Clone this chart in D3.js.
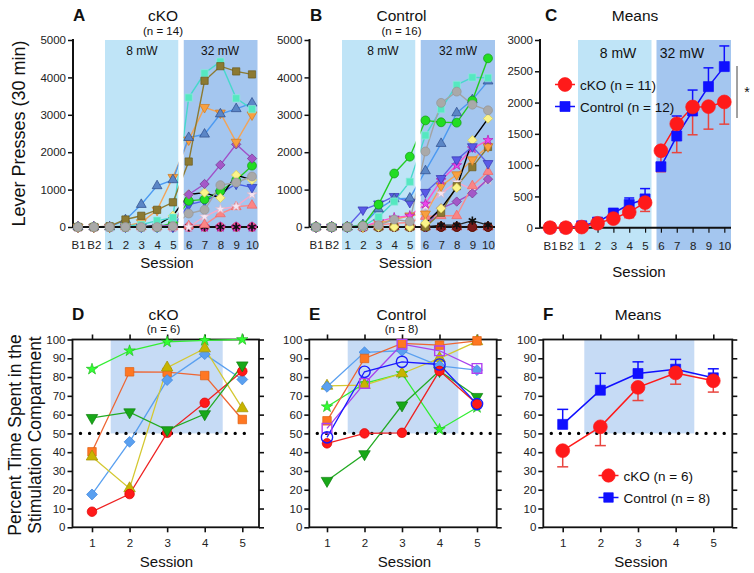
<!DOCTYPE html>
<html><head><meta charset="utf-8">
<script src="https://cdn.jsdelivr.net/npm/d3@7"></script>
<style>
body { margin: 0; background: #fff; }
svg { display: block; font-family: "Liberation Sans", Arial, sans-serif; }
</style></head>
<body>
<svg id="fig" width="754" height="573"></svg>
<script>
// ---------- data ----------
var leverSessions = ["B1", "B2", "1", "2", "3", "4", "5", "6", "7", "8", "9", "10"];
var cppSessions = [1, 2, 3, 4, 5];
var leverTicksA = [0, 1000, 2000, 3000, 4000, 5000];
var leverTicksC = [0, 500, 1000, 1500, 2000, 2500, 3000];
var pctTicks = [0, 10, 20, 30, 40, 50, 60, 70, 80, 90, 100];

// A: cKO individual lever presses (n = 14)
var ckoTealSquare   = [0, 0, 0, 30, 60, 170, 250, 3460, 4110, 4420, 3440, 3150];
var ckoOliveSquare  = [0, 0, 20, 200, 300, 460, 660, 1750, 3910, 4300, 4160, 4080];
var ckoBlueTriUp    = [0, 0, 0, 190, 600, 1100, 1260, 2390, 2480, 3020, 3160, 3310];
var ckoOrangeTriDn  = [0, 0, 0, 20, 120, 450, 1330, 2330, 3200, 3050, 2270, 3000];
var ckoPurpleDia    = [0, 0, 0, 0, 0, 20, 50, 870, 1150, 1660, 2210, 1830];
var ckoGreenCircle  = [0, 0, 0, 0, 0, 0, 100, 700, 740, 960, 1250, 1640];
var ckoYellowDia    = [0, 0, 0, 0, 0, 50, 300, 870, 920, 780, 1390, 1260];
var ckoGrayCircle   = [0, 0, 0, 0, 0, 0, 20, 360, 460, 1120, 1190, 1350];
var ckoBlueTriDn    = [0, 0, 0, 0, 0, 0, 0, 600, 700, 900, 1150, 1060];
var ckoPaleStar     = [0, 0, 0, 0, 0, 0, 0, 0, 280, 480, 550, 870];
var ckoSalmonTri    = [0, 0, 0, 0, 0, 0, 0, 30, 60, 350, 540, 580];
var ckoMagentaStar  = [0, 0, 0, 0, 0, 0, 0, 0, 0, 0, 0, 0];
var ckoBlackAster   = [0, 0, 0, 0, 0, 0, 0, 0, 0, 0, 0, 0];
var ckoPinkCircle   = [0, 0, 0, 0, 0, 0, 0, 0, 0, 0, 0, 0];

// B: control individual lever presses (n = 16)
var ctlGreenCircle  = [0, 0, 0, 40, 600, 1430, 1880, 2850, 2800, 2790, 3380, 4510];
var ctlTealSquare   = [0, 0, 0, 20, 270, 680, 1210, 2450, 3150, 3800, 4000, 3990];
var ctlGrayCircle   = [0, 0, 0, 30, 50, 200, 150, 2020, 3320, 3620, 3270, 3120];
var ctlBlueTriUp    = [0, 0, 0, 60, 480, 750, 770, 1500, 2230, 3050, 3400, 3900];
var ctlSlateTriDn   = [0, 0, 0, 460, 620, 820, 660, 930, 1300, 1800, 2150, 1700];
var ctlYellowDia    = [0, 0, 0, 0, 0, 0, 0, 100, 500, 1050, 2320, 2900];
var ctlMagentaStar  = [0, 0, 0, 0, 150, 250, 300, 620, 1250, 1650, 2100, 2320];
var ctlOrangeTriDn  = [0, 0, 0, 0, 100, 200, 300, 350, 1100, 1400, 1800, 2150];
var ctlOliveSquare  = [0, 0, 0, 0, 0, 0, 0, 0, 380, 1090, 1600, 2140];
var ctlSalmonTri    = [0, 0, 0, 0, 50, 100, 120, 280, 300, 300, 1100, 1480];
var ctlPurpleDia    = [0, 0, 0, 0, 0, 0, 0, 0, 500, 680, 900, 1280];
var ctlPaleStar     = [0, 0, 0, 0, 0, 0, 0, 550, 900, 1200, 1000, 1250];
var ctlBlackCross   = [0, 0, 0, 0, 0, 0, 0, 0, 50, 50, 170, 50];
var ctlDarkRed      = [0, 0, 0, 0, 0, 0, 0, 0, 0, 0, 0, 0];
var ctlOrangeZero   = [0, 0, 0, 0, 0, 0, 0, 0, 0, 0, 0, 0];
var ctlRedTriZero   = [0, 0, 0, 0, 0, 0, 0, 0, 0, 0, 0, 0];

// C: means (cKO n = 11, control n = 12)
var ckoMeans  = [0, 0, 10, 70, 145, 250, 400, 1230, 1660, 1930, 1935, 2010];
var ckoSem    = [0, 0, 0, 0, 0, 90, 140, 335, 460, 445, 360, 355];
var ctlMeans  = [0, 0, 30, 90, 235, 370, 460, 975, 1465, 1865, 2255, 2575];
var ctlSem    = [0, 0, 0, 20, 0, 105, 165, 60, 320, 335, 300, 330];

// D: cKO place preference (n = 6)
var dLimeStar    = [84.2, 94, 98.7, 99.5, 100];
var dOrangeSq    = [40.2, 82.8, 82.6, 80.8, 57.4];
var dBlueDia     = [17.5, 45.5, 78.4, 92.2, 78.7];
var dOliveTri    = [37.6, 20.7, 85, 95.2, 63.3];
var dGreenTriDn  = [58.3, 61.3, 51.8, 60.3, 86.3];
var dRedCircle   = [8.3, 17.7, 50.3, 66.3, 83.1];

// E: control place preference (n = 8)
var eBlueDia     = [74.8, 93.2, 94, 86, 83.7];
var eOrangeSq    = [56.7, 89.9, 97.9, 97, 99.3];
var eOliveTri    = [75.3, 75.7, 81.9, 90, 99];
var ePurpleOpen  = [52.7, 76.6, 97.5, 94, 84.6];
var eBlueOpen    = [47.9, 82.8, 88.1, 86.7, 65.6];
var eLimeStar    = [64.2, 76.6, 81.9, 52.1, 63.8];
var eRedCircle   = [44.7, 50, 50.3, 83.3, 65.6];
var eGreenTriDn  = [24.8, 39, 65, 83.3, 69.5];

// F: means
var ckoPct    = [40.8, 53.5, 74.5, 82.2, 78];
var ckoPctSem = [8.6, 10, 7, 6, 6];
var ctlPct    = [54.8, 73, 81.9, 84.2, 79.6];
var ctlPctSem = [8, 9, 6.2, 5.2, 4.8];

// ---------- styles ----------
var LIGHT = "#bfe4f7", DARK = "#a4c6ef", CPP = "#c6dbf5";
var RED = "#ff1a1a", BLUE = "#1010ff";

var ckoAnimals = [
  { v: ckoPinkCircle, shape: "circle", fill: "#ff5b9a", stroke: "#e0407a", line: "#ff5b9a" },
  { v: ckoMagentaStar, shape: "star", fill: "#ee33dd", stroke: "#aa1199", line: "#ff4fa8" },
  { v: ckoBlackAster, shape: "asterisk", fill: "#111", stroke: "#111", line: "#ff4fa8" },
  { v: ckoSalmonTri, shape: "triUp", fill: "#fb8585", stroke: "#e66", line: "#fb8a8a" },
  { v: ckoPaleStar, shape: "star", fill: "#f6e6f2", stroke: "#d8b8cc", line: "#f7a8c8" },
  { v: ckoBlueTriDn, shape: "triDown", fill: "#4b5fe8", stroke: "#2d3fb0", line: "#4b5fe8" },
  { v: ckoGreenCircle, shape: "circle", fill: "#22dd22", stroke: "#129912", line: "#22cc22" },
  { v: ckoYellowDia, shape: "diamond", fill: "#fbf48a", stroke: "#d8cc55", line: "#000" },
  { v: ckoPurpleDia, shape: "diamond", fill: "#a458c8", stroke: "#733a92", line: "#a050c8" },
  { v: ckoOrangeTriDn, shape: "triDown", fill: "#f8a040", stroke: "#d07a20", line: "#f2a458" },
  { v: ckoBlueTriUp, shape: "triUp", fill: "#5b86c6", stroke: "#2c4a8a", line: "#4c9af2" },
  { v: ckoTealSquare, shape: "square", fill: "#55e8c0", stroke: "#8fe8dc", line: "#48d8cc" },
  { v: ckoOliveSquare, shape: "square", fill: "#8c7a32", stroke: "#6a5a1e", line: "#8c7a32" },
  { v: ckoGrayCircle, shape: "circle", fill: "#a9a9a9", stroke: "#939393", line: "#a3a3a3" }
];

var ctlAnimals = [
  { v: ctlRedTriZero, shape: "triUp", fill: "#e33", stroke: "#b22", line: "#e33" },
  { v: ctlOrangeZero, shape: "circle", fill: "#e07020", stroke: "#a05010", line: "#e07020" },
  { v: ctlDarkRed, shape: "circle", fill: "#7a1a1a", stroke: "#400", line: "#7a1a1a" },
  { v: ctlBlackCross, shape: "asterisk", fill: "#111", stroke: "#111", line: "#222" },
  { v: ctlPaleStar, shape: "star", fill: "#f6e6f2", stroke: "#d8b8cc", line: "#f7a8c8" },
  { v: ctlPurpleDia, shape: "diamond", fill: "#a458c8", stroke: "#733a92", line: "#a050c8" },
  { v: ctlSalmonTri, shape: "triUp", fill: "#fb8585", stroke: "#e66", line: "#fb8a8a" },
  { v: ctlOliveSquare, shape: "square", fill: "#8c7a32", stroke: "#6a5a1e", line: "#8c7a32" },
  { v: ctlOrangeTriDn, shape: "triDown", fill: "#f8a040", stroke: "#d07a20", line: "#f2a458" },
  { v: ctlMagentaStar, shape: "star", fill: "#ee44ee", stroke: "#b020b0", line: "#ff55cc" },
  { v: ctlYellowDia, shape: "diamond", fill: "#fbf48a", stroke: "#d8cc55", line: "#000" },
  { v: ctlSlateTriDn, shape: "triDown", fill: "#5a5ae6", stroke: "#3535b0", line: "#6060e8" },
  { v: ctlBlueTriUp, shape: "triUp", fill: "#5b86c6", stroke: "#2c4a8a", line: "#4c9af2" },
  { v: ctlTealSquare, shape: "square", fill: "#55e8c0", stroke: "#8fe8dc", line: "#48d8cc" },
  { v: ctlGreenCircle, shape: "circle", fill: "#22dd22", stroke: "#129912", line: "#22cc22" },
  { v: ctlGrayCircle, shape: "circle", fill: "#a9a9a9", stroke: "#939393", line: "#a3a3a3" }
];

var dAnimals = [
  { v: dLimeStar, shape: "star", fill: "#33ff33", stroke: "#1fbf1f", line: "#33ee33" },
  { v: dOrangeSq, shape: "square", fill: "#ff7722", stroke: "#e06010", line: "#ee6633" },
  { v: dBlueDia, shape: "diamond", fill: "#5aa0f0", stroke: "#3f86dd", line: "#5aa0f0" },
  { v: dOliveTri, shape: "triUp", fill: "#c8b400", stroke: "#a09000", line: "#d4c830" },
  { v: dRedCircle, shape: "circle", fill: "#ff1a1a", stroke: "#d00", line: "#ee2222" },
  { v: dGreenTriDn, shape: "triDown", fill: "#18a818", stroke: "#0e800e", line: "#22aa22" }
];

var eAnimals = [
  { v: eLimeStar, shape: "star", fill: "#33ff33", stroke: "#1fbf1f", line: "#33ee33" },
  { v: eOliveTri, shape: "triUp", fill: "#c8b400", stroke: "#a09000", line: "#d4c830" },
  { v: eBlueDia, shape: "diamond", fill: "#5aa0f0", stroke: "#3f86dd", line: "#5aa0f0" },
  { v: eOrangeSq, shape: "square", fill: "#ff7722", stroke: "#e06010", line: "#ee6633" },
  { v: eGreenTriDn, shape: "triDown", fill: "#18a818", stroke: "#0e800e", line: "#22aa22" },
  { v: eRedCircle, shape: "circle", fill: "#ff1a1a", stroke: "#d00", line: "#ee2222" },
  { v: ePurpleOpen, shape: "square", fill: "none", stroke: "#b040f0", line: "#a844ee", open: true },
  { v: eBlueOpen, shape: "circle", fill: "none", stroke: "#1a1aff", line: "#1a1aff", open: true }
];

// ---------- helpers ----------
var svg = d3.select("#fig");
var symTypes = { circle: d3.symbolCircle, square: d3.symbolSquare, triUp: d3.symbolTriangle, triDown: d3.symbolTriangle,
  diamond: d3.symbolSquare, star: d3.symbolStar, asterisk: d3.symbolAsterisk };
var symScale = { circle: 1, square: 0.85, triUp: 0.68, triDown: 0.68, diamond: 0.7, star: 0.5, asterisk: 0.8 };

function mark(g, s, x, y, size) {
  var strokeOnly = s.shape === "asterisk";
  g.append("path")
    .attr("d", d3.symbol().type(symTypes[s.shape]).size(size * symScale[s.shape])())
    .attr("transform", "translate(" + x + "," + y + ") rotate(" + (s.shape === "triDown" ? 180 : s.shape === "diamond" ? 45 : 0) + ")")
    .attr("fill", strokeOnly ? "none" : s.fill)
    .attr("stroke", strokeOnly ? s.fill : s.stroke)
    .attr("stroke-width", strokeOnly ? 1.6 : (s.open ? 1.4 : 0.7));
}

function text(g, x, y, str, size, opts) {
  opts = opts || {};
  var t = g.append("text").attr("x", x).attr("y", y).attr("font-size", size).attr("fill", "#111")
    .attr("text-anchor", opts.anchor || "middle").text(str);
  if (opts.bold) t.attr("font-weight", "bold");
  if (opts.family) t.attr("font-family", opts.family);
  if (opts.rotate) t.attr("transform", "rotate(-90," + x + "," + y + ")");
  return t;
}

function styleAxis(sel, w) {
  sel.selectAll("path.domain").remove();
  sel.selectAll(".tick line").attr("stroke", "#111").attr("stroke-width", w);
  sel.selectAll(".tick text").attr("fill", "#222").attr("font-size", 11.5).attr("font-family", "Liberation Sans, Arial, sans-serif");
}

// ---------- lever press panels (A, B, C) ----------
function leverPanel(p) {
  var g = svg.append("g");
  var x = d3.scalePoint().domain(leverSessions).range([p.xFirst, p.xLast]);
  var y = d3.scaleLinear().domain([0, p.yMax]).range([p.yBot, p.yTop]);
  var narrow = p.means ? "Liberation Sans, Arial, sans-serif" : "Liberation Sans Narrow, Arial Narrow, Liberation Sans, sans-serif";

  g.append("rect").attr("x", p.light[0]).attr("y", p.yTop).attr("width", p.light[1] - p.light[0])
    .attr("height", p.shadeBot - p.yTop).attr("fill", LIGHT);
  g.append("rect").attr("x", p.dark[0]).attr("y", p.yTop).attr("width", p.dark[1] - p.dark[0])
    .attr("height", p.shadeBot - p.yTop).attr("fill", DARK);
  text(g, p.mw8, p.yTop + (p.means ? 18 : 15), "8 mW", p.means ? 14 : 12, { family: narrow });
  text(g, p.mw32, p.yTop + (p.means ? 18 : 15), "32 mW", p.means ? 14 : 12, { family: narrow });

  var line = d3.line().x(function (d, i) { return x(leverSessions[i]); }).y(function (d) { return y(d); });

  if (p.series) {
    p.series.forEach(function (s) {
      g.append("path").attr("d", line(s.v)).attr("fill", "none").attr("stroke", s.line).attr("stroke-width", 1.4);
    });
    // white gap between the two stimulation blocks hides the 5 -> 6 segments
    g.append("rect").attr("x", p.light[1]).attr("y", p.yTop).attr("width", p.dark[0] - p.light[1])
      .attr("height", p.shadeBot - p.yTop).attr("fill", "#fff");
  }

  // axes
  var ya = g.append("g").attr("transform", "translate(" + p.axisX + ",0)")
    .call(d3.axisLeft(y).tickValues(p.ticks).tickSize(5).tickPadding(2).tickFormat(d3.format("d")));
  styleAxis(ya, 1.5);
  g.append("line").attr("x1", p.axisX).attr("x2", p.axisX).attr("y1", p.yTop - 1).attr("y2", p.yBot)
    .attr("stroke", "#111").attr("stroke-width", 2);
  var xa = g.append("g").attr("transform", "translate(0," + p.yBot + ")")
    .call(d3.axisBottom(x).tickSize(5).tickPadding(9).tickSizeOuter(0));
  styleAxis(xa, 1.2);
  g.append("line").attr("x1", p.axisX).attr("x2", p.xEnd).attr("y1", p.yBot).attr("y2", p.yBot)
    .attr("stroke", "#111").attr("stroke-width", 2);

  if (p.series) {
    p.series.forEach(function (s) {
      s.v.forEach(function (d, i) { mark(g, s, x(leverSessions[i]), y(d), 62); });
    });
  }

  if (p.means) {
    var groups = [
      { m: ckoMeans, e: ckoSem, dir: 1, col: RED, err: "#e8453f", shape: "circle", size: 150 },
      { m: ctlMeans, e: ctlSem, dir: -1, col: BLUE, err: BLUE, shape: "square", size: 100 }
    ];
    // error bars first, cKO down / control up
    groups.forEach(function (gr) {
      gr.m.forEach(function (d, i) {
        if (!gr.e[i]) return;
        var cx = x(leverSessions[i]), y2 = y(d - gr.dir * gr.e[i]);
        g.append("line").attr("x1", cx).attr("x2", cx).attr("y1", y(d)).attr("y2", y2).attr("stroke", gr.err).attr("stroke-width", 1.5);
        g.append("line").attr("x1", cx - 5).attr("x2", cx + 5).attr("y1", y2).attr("y2", y2).attr("stroke", gr.err).attr("stroke-width", 1.5);
      });
    });
    groups.slice().reverse().forEach(function (gr) {
      // baseline + 8 mW block, then 32 mW block (the line breaks across the gap)
      [gr.m.slice(0, 7), gr.m.slice(7)].forEach(function (part, k) {
        var off = k ? 7 : 0;
        g.append("path").attr("d", d3.line().x(function (d, i) { return x(leverSessions[i + off]); }).y(function (d) { return y(d); })(part))
          .attr("fill", "none").attr("stroke", gr.col).attr("stroke-width", 1.5);
      });
    });
    groups.slice().reverse().forEach(function (gr) {
      gr.m.forEach(function (d, i) {
        mark(g, { shape: gr.shape, fill: gr.col, stroke: gr.col }, x(leverSessions[i]), y(d), gr.size / (gr.shape === "square" ? 0.85 : 1));
      });
    });
    legend(g, p.legX, p.legY, "cKO (n = 11)", "Control (n = 12)", 150, 100, 13.5);
    // significance bracket
    g.append("line").attr("x1", 737).attr("x2", 737).attr("y1", 66).attr("y2", 118).attr("stroke", "#444").attr("stroke-width", 1);
    text(g, 747, 97, "*", 14, { family: "Liberation Sans, Arial, sans-serif" });
  }

  // titles
  text(g, p.letterX, 21, p.letter, 17, { bold: true, anchor: "start" });
  text(g, p.titleX, 21, p.title, 15.5);
  if (p.n) text(g, p.titleX, 35, p.n, 11.5);
  text(g, p.titleX + (p.means ? 4 : 4), p.sessY, "Session", 15);
}

function legend(g, lx, ly, a, b, sa, sb, fs) {
  g.append("line").attr("x1", lx - 10).attr("x2", lx + 10).attr("y1", ly).attr("y2", ly).attr("stroke", RED).attr("stroke-width", 1.5);
  mark(g, { shape: "circle", fill: RED, stroke: RED }, lx, ly, sa);
  text(g, lx + 15, ly + 5, a, fs, { anchor: "start" });
  g.append("line").attr("x1", lx - 10).attr("x2", lx + 10).attr("y1", ly + 22).attr("y2", ly + 22).attr("stroke", BLUE).attr("stroke-width", 1.5);
  mark(g, { shape: "square", fill: BLUE, stroke: BLUE }, lx, ly + 22, sb / 0.85);
  text(g, lx + 15, ly + 27, b, fs, { anchor: "start" });
}

// ---------- place preference panels (D, E, F) ----------
function cppPanel(p) {
  var g = svg.append("g");
  var x = d3.scalePoint().domain(cppSessions).range([p.x1, p.x5]);
  var y = d3.scaleLinear().domain([0, 100]).range([527.3, 339.5]);

  g.append("rect").attr("x", p.shade[0]).attr("y", y(100)).attr("width", p.shade[1] - p.shade[0])
    .attr("height", y(50) - y(100)).attr("fill", CPP);

  var ya = g.append("g").attr("transform", "translate(" + p.axisX + ",0)")
    .call(d3.axisLeft(y).tickValues(pctTicks).tickSize(5).tickPadding(2));
  styleAxis(ya, 1.6);
  var yr = g.append("g").attr("transform", "translate(" + p.right + ",0)")
    .call(d3.axisRight(y).tickValues(pctTicks).tickSize(5).tickFormat(""));
  styleAxis(yr, 1.6);
  var xa = g.append("g").attr("transform", "translate(0," + y(0) + ")")
    .call(d3.axisBottom(x).tickSize(5).tickPadding(7).tickSizeOuter(0));
  styleAxis(xa, 1.6);
  var xt = g.append("g").attr("transform", "translate(0," + y(100) + ")")
    .call(d3.axisTop(x).tickSize(5).tickFormat("").tickSizeOuter(0));
  styleAxis(xt, 1.6);
  g.append("rect").attr("x", p.axisX).attr("y", y(100)).attr("width", p.right - p.axisX).attr("height", y(0) - y(100))
    .attr("fill", "none").attr("stroke", "#111").attr("stroke-width", 1.8);

  g.append("line").attr("x1", p.axisX + 8).attr("x2", p.right - 6).attr("y1", y(50)).attr("y2", y(50))
    .attr("stroke", "#000").attr("stroke-width", 3.4).attr("stroke-linecap", "round").attr("stroke-dasharray", "0,9.1");

  var line = d3.line().x(function (d, i) { return x(cppSessions[i]); }).y(function (d) { return y(d); });

  if (p.series) {
    p.series.forEach(function (s) {
      g.append("path").attr("d", line(s.v)).attr("fill", "none").attr("stroke", s.line).attr("stroke-width", 1.3);
    });
    p.series.forEach(function (s) {
      s.v.forEach(function (d, i) {
        var sz = s.shape === "circle" ? 72 : s.shape === "star" ? 80 : 85;
        if (s.open) sz = s.shape === "circle" ? 100 : 110;
        mark(g, s, x(cppSessions[i]), y(d), sz);
      });
    });
  }

  if (p.means) {
    var groups = [
      { m: ctlPct, e: ctlPctSem, dir: -1, col: BLUE, err: BLUE, shape: "square", size: 100 },
      { m: ckoPct, e: ckoPctSem, dir: 1, col: RED, err: "#e8453f", shape: "circle", size: 150 }
    ];
    groups.forEach(function (gr) {
      gr.m.forEach(function (d, i) {
        var cx = x(cppSessions[i]), y2 = y(d - gr.dir * gr.e[i]);
        g.append("line").attr("x1", cx).attr("x2", cx).attr("y1", y(d)).attr("y2", y2).attr("stroke", gr.err).attr("stroke-width", 1.5);
        g.append("line").attr("x1", cx - 5.5).attr("x2", cx + 5.5).attr("y1", y2).attr("y2", y2).attr("stroke", gr.err).attr("stroke-width", 1.5);
      });
    });
    groups.forEach(function (gr) {
      g.append("path").attr("d", line(gr.m)).attr("fill", "none").attr("stroke", gr.col).attr("stroke-width", 1.5);
      gr.m.forEach(function (d, i) {
        mark(g, { shape: gr.shape, fill: gr.col, stroke: gr.col }, x(cppSessions[i]), y(d), gr.size / (gr.shape === "square" ? 0.85 : 1));
      });
    });
    legend(g, p.legX, p.legY, "cKO (n = 6)", "Control (n = 8)", 140, 90, 13.5);
  }

  text(g, p.letterX, 320, p.letter, 17, { bold: true, anchor: "start" });
  text(g, p.titleX, 320, p.title, 15.5);
  if (p.n) text(g, p.titleX, 333, p.n, 11.5);
  text(g, p.titleX + 3, 567, "Session", 15);
}

leverPanel({ letter: "A", letterX: 73, title: "cKO", n: "(n = 14)", titleX: 163, sessY: 268,
  axisX: 73, xFirst: 78, xLast: 252, xEnd: 258, yTop: 40, yBot: 227, shadeBot: 250, yMax: 5000, ticks: leverTicksA,
  light: [105, 178.5], dark: [183.5, 257.5], mw8: 142, mw32: 220, series: ckoAnimals });
leverPanel({ letter: "B", letterX: 310, title: "Control", n: "(n = 16)", titleX: 401.5, sessY: 268,
  axisX: 309.5, xFirst: 316, xLast: 488, xEnd: 495, yTop: 40, yBot: 227, shadeBot: 250, yMax: 5000, ticks: leverTicksA,
  light: [342, 415.5], dark: [420.5, 495], mw8: 383, mw32: 458, series: ctlAnimals });
leverPanel({ letter: "C", letterX: 545, title: "Means", titleX: 635, sessY: 277,
  axisX: 540, xFirst: 550, xLast: 724.3, xEnd: 731, yTop: 40, yBot: 227.7, shadeBot: 250, yMax: 3000, ticks: leverTicksC,
  light: [578, 651.5], dark: [656.5, 731], mw8: 618, mw32: 682, means: true, legX: 565, legY: 84.5 });

cppPanel({ letter: "D", letterX: 72, title: "cKO", n: "(n = 6)", titleX: 163.5,
  axisX: 72.5, right: 259, x1: 92, x5: 242.3, shade: [110.7, 222.7], series: dAnimals });
cppPanel({ letter: "E", letterX: 309, title: "Control", n: "(n = 8)", titleX: 401.5,
  axisX: 309.3, right: 496.7, x1: 327, x5: 477, shade: [347.7, 458.3], series: eAnimals });
cppPanel({ letter: "F", letterX: 543, title: "Means", titleX: 638,
  axisX: 543.3, right: 732.3, x1: 562.7, x5: 713.3, shade: [584.3, 694.3], means: true, legX: 608.5, legY: 475.5 });

// y-axis titles
text(svg, 25, 133.5, "Lever Presses (30 min)", 18, { rotate: true });
text(svg, 21, 435, "Percent Time Spent in the", 17.5, { rotate: true });
text(svg, 41, 435, "Stimulation Compartment", 17.5, { rotate: true });
</script>
</body></html>
